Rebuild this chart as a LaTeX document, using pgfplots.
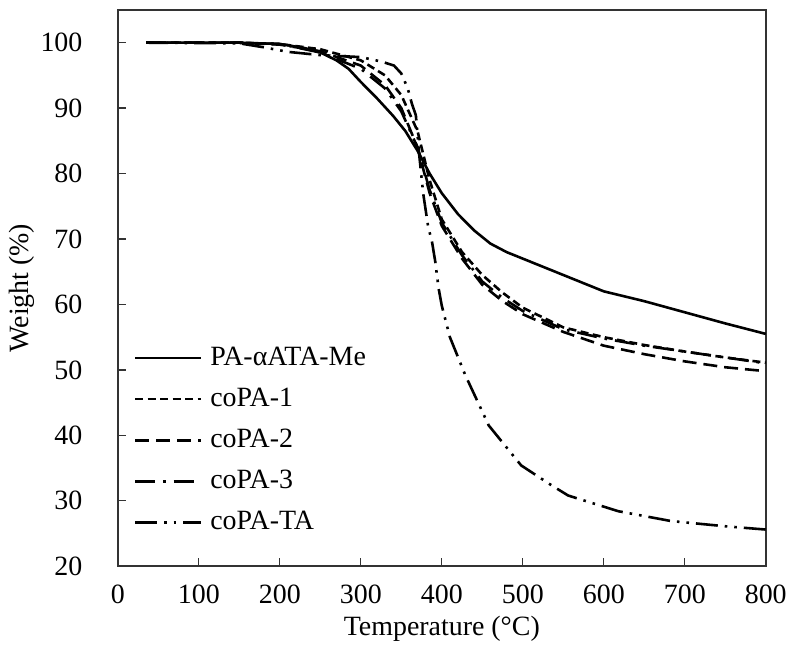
\documentclass[border=0pt]{standalone}
\usepackage{pgfplots}
\pgfplotsset{compat=1.18}
\usepackage{fontspec}
\setmainfont{Liberation Serif}
\begin{document}
\fontsize{28}{33}\selectfont
\begin{tikzpicture}
\begin{axis}[
  scale only axis, width=650pt, height=558pt,
  xmin=0, xmax=800, ymin=20, ymax=105,
  xtick={0,100,...,800}, ytick={20,30,...,100},
  xtick pos=bottom, ytick pos=left, tick align=inside,
  major tick length=8pt,
  tick style={line width=1.3pt, black!80},
  axis line style={line width=1.6pt, black!80},
  /pgf/number format/assume math mode=true,
  ticklabel style={font=\fontsize{28}{33}\selectfont},
  yticklabel style={xshift=-26pt},
  xticklabel style={yshift=-9pt},
  label style={font=\fontsize{28}{33}\selectfont},
  xlabel={Temperature (°C)}, ylabel={Weight (\%)},
  xlabel style={yshift=6pt}, ylabel style={yshift=-13pt},
  legend style={draw=none, fill=none, at={(0.02,0.402)}, anchor=north west,
    font=\fontsize{28}{33}\selectfont, row sep=14.5pt, column sep=6pt},
  legend cell align=left,
  legend image code/.code={\draw[#1] (0pt,0pt) -- (66pt,0pt);},
]
\addplot[black, solid, no marks, line width=2.6pt] coordinates {(35,100)(100,100)(150,100)(200,99.8)(230,99.2)(250,98.5)(270,97.3)(285,96)(300,94)(320,91.5)(340,88.8)(355,86.5)(370,83.5)(385,80)(400,77)(420,73.8)(440,71.3)(460,69.3)(480,68.0)(500,67.0)(550,64.5)(600,62.0)(650,60.5)(700,58.8)(750,57.1)(800,55.5)};
\addlegendentry{PA-αATA-Me}
\addplot[black, no marks, line width=2.6pt, dash pattern=on 8pt off 4.5pt] coordinates {(35,100)(100,100)(150,100)(200,99.8)(250,99.0)(300,97.3)(330,95)(350,92)(370,86.5)(385,79)(400,73)(425,68)(450,64.5)(475,61.8)(500,59.5)(550,56.5)(600,55)(650,53.8)(700,52.8)(750,51.9)(800,51.1)};
\addlegendentry{coPA-1}
\addplot[black, no marks, line width=2.6pt, dash pattern=on 14pt off 7pt] coordinates {(35,100)(100,100)(150,100)(200,99.7)(250,98.7)(300,96.5)(330,93.5)(350,90)(370,84)(385,77)(400,72)(425,67)(450,63)(475,60.5)(500,58.5)(550,55.8)(600,53.7)(650,52.4)(700,51.3)(750,50.4)(800,49.8)};
\addlegendentry{coPA-2}
\addplot[black, no marks, line width=2.6pt, dash pattern=on 20pt off 8pt on 2.6pt off 8pt] coordinates {(35,100)(100,100)(150,100)(200,99.8)(250,98.5)(300,96)(330,93)(350,89.5)(370,84)(385,77.5)(400,72.5)(425,67.5)(450,63.5)(475,61)(500,59)(550,56.2)(600,54.8)(650,53.7)(700,52.8)(750,51.9)(800,51)};
\addlegendentry{coPA-3}
\addplot[black, no marks, line width=2.6pt, dash pattern=on 22pt off 7pt on 2.6pt off 7pt on 2.6pt off 7pt] coordinates {(35,100)(150,99.9)(180,99.3)(210,98.6)(250,98.1)(300,97.8)(326,97.1)(341,96.5)(350,95.3)(358,93)(363,90.7)(368,88.9)(372,83)(377,77)(383,72)(388,69.5)(392,66.5)(396,62.5)(400,59.8)(410,55)(429,49.2)(458,41.5)(498,35.4)(535,32.4)(556,30.8)(618,28.4)(683,26.9)(750,26.1)(800,25.6)};
\addlegendentry{coPA-TA}
\end{axis}
\path (current axis.north west) ++(0,10pt);
\end{tikzpicture}
\end{document}
